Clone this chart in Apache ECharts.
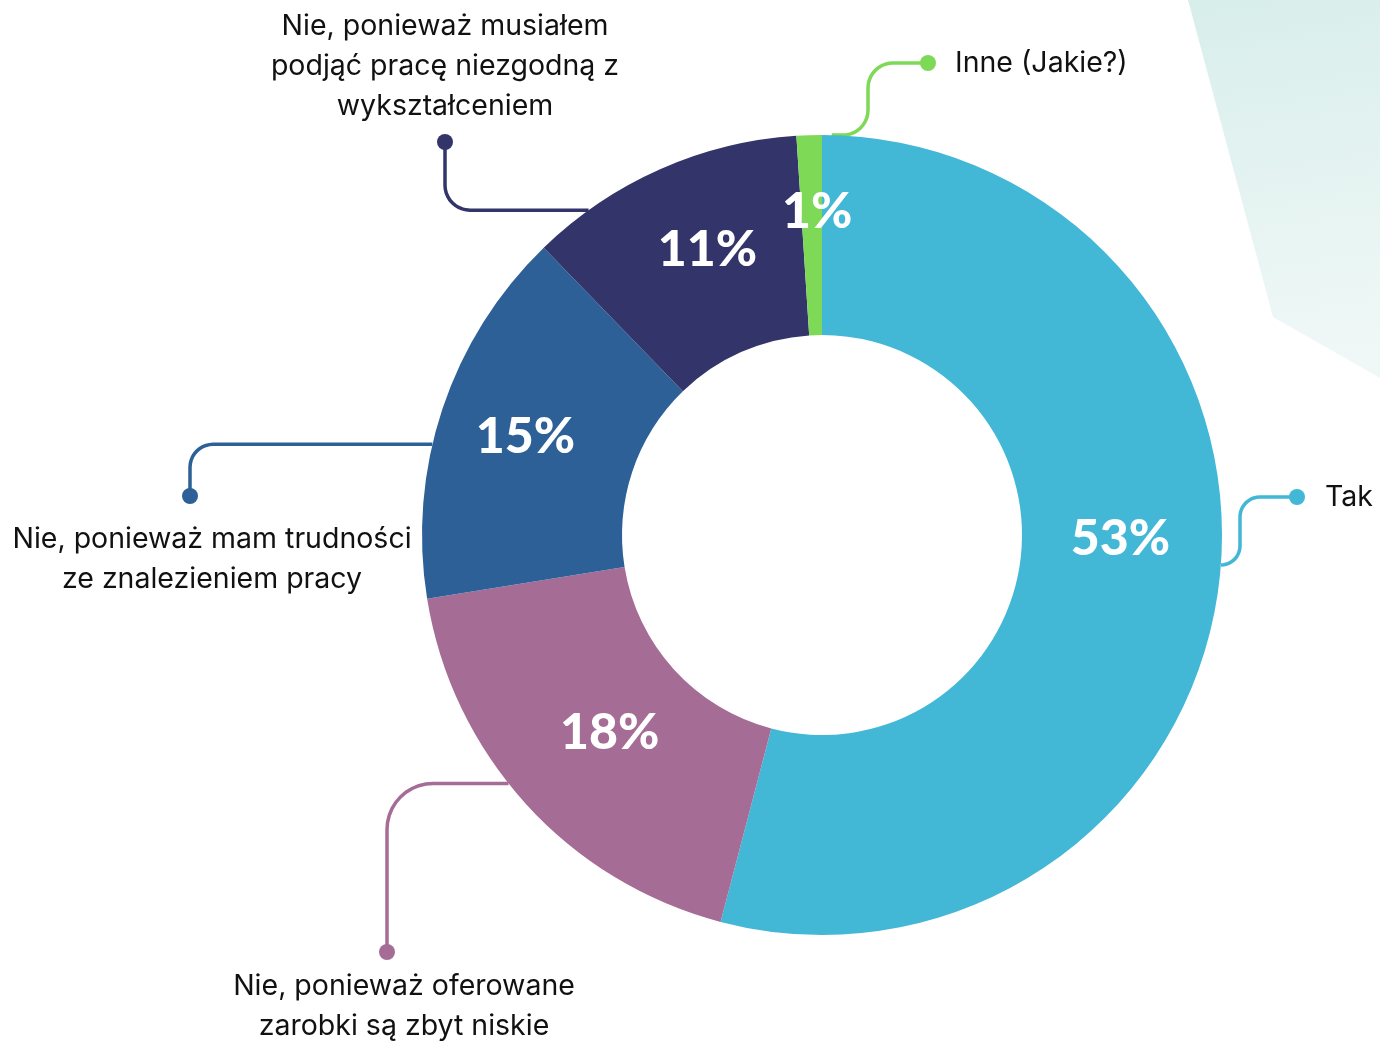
<!DOCTYPE html>
<html>
<head>
<meta charset="utf-8">
<script src="https://cdn.jsdelivr.net/npm/echarts@6/dist/echarts.min.js"></script>
<style>
  html, body { margin: 0; padding: 0; background: #fff; }
  #chart { width: 1380px; height: 1041px; }
</style>
</head>
<body>
<div id="chart"></div>
<script>
// data
var categories = [
    'Tak',
    'Nie, ponieważ oferowane\nzarobki są zbyt niskie',
    'Nie, ponieważ mam trudności\nze znalezieniem pracy',
    'Nie, ponieważ musiałem\npodjąć pracę niezgodną z\nwykształceniem',
    'Inne (Jakie?)'
];
var values = [53, 18, 15, 11, 1];
var colors = ['#42b7d6', '#a56d96', '#2e6098', '#33356a', '#7ed957'];

// pie geometry
var CX = 822, CY = 535, R0 = 200, R1 = 400;

// leader lines: start angle on the rim (deg, clockwise from top), then straight legs
var routes = [
    { a: 94.3, legs: [['h', 1240], ['v', 497], ['h', 1297]], r: 20 },
    { a: 231.6, legs: [['h', 387], ['v', 952]], r: 46 },
    { a: 283.1, legs: [['h', 190], ['v', 496]], r: 23 },
    { a: 324.3, legs: [['h', 445], ['v', 142]], r: 25 },
    { a: 1.4, legs: [['h', 868], ['v', 63], ['h', 928]], r: 25 }
];
// where the text sits relative to the dot
var textPlace = [
    { dx: -8, dy: 0, align: 'left', va: 'middle', gap: 20, lh: 40 },
    { dx: 17, dy: -14, align: 'center', va: 'top', gap: 34, lh: 28 },
    { dx: 22, dy: -23, align: 'center', va: 'top', gap: 44, lh: 46 },
    { dx: 0, dy: 16, align: 'center', va: 'bottom', gap: 0, lh: 32 },
    { dx: -8, dy: 0, align: 'left', va: 'middle', gap: 19, lh: 40 }
];
// nudges for the percentage labels
var pctShift = [[-2, -35], [12, -6], [-9, -3], [8, -8], [5, -20]];

function buildRoute(rt) {
    var rad = rt.a * Math.PI / 180;
    var cur = [CX + R1 * Math.sin(rad), CY - R1 * Math.cos(rad)];
    var corners = [cur];
    rt.legs.forEach(function (l) {
        cur = l[0] === 'h' ? [l[1], cur[1]] : [cur[0], l[1]];
        corners.push(cur);
    });
    var out = [corners[0]];
    var n = corners.length;
    for (var i = 1; i < n - 1; i++) {
        var p0 = corners[i - 1], p = corners[i], p1 = corners[i + 1];
        var l0 = Math.hypot(p0[0] - p[0], p0[1] - p[1]);
        var l1 = Math.hypot(p1[0] - p[0], p1[1] - p[1]);
        var r = Math.min(rt.r, i === 1 ? l0 : l0 / 2, i === n - 2 ? l1 : l1 / 2);
        var d0 = [(p0[0] - p[0]) / l0, (p0[1] - p[1]) / l0];
        var d1 = [(p1[0] - p[0]) / l1, (p1[1] - p[1]) / l1];
        var a = [p[0] + d0[0] * r, p[1] + d0[1] * r];
        var b = [p[0] + d1[0] * r, p[1] + d1[1] * r];
        var c = [p[0] + (d0[0] + d1[0]) * r, p[1] + (d0[1] + d1[1]) * r];
        var angA = Math.atan2(a[1] - c[1], a[0] - c[0]);
        var angB = Math.atan2(b[1] - c[1], b[0] - c[0]);
        var diff = angB - angA;
        if (diff > Math.PI) diff -= 2 * Math.PI;
        if (diff < -Math.PI) diff += 2 * Math.PI;
        for (var k = 0; k <= 10; k++) {
            var ang = angA + diff * k / 10;
            out.push([c[0] + r * Math.cos(ang), c[1] + r * Math.sin(ang)]);
        }
    }
    out.push(corners[n - 1]);
    return out;
}

function labelText(i) {
    var name = categories[i];
    if (i === 0 || i === 4) return '{dot|}{gap|}' + name;
    if (i === 3) return name + '\n{dot|}';
    return '{dot|}{gap|}\n' + name;
}

var outerData = categories.map(function (name, i) {
    return {
        name: name,
        value: values[i],
        itemStyle: { color: colors[i] },
        label: {
            formatter: labelText(i),
            rich: {
                dot: { width: 16, height: 16, borderRadius: 8, backgroundColor: colors[i], lineHeight: textPlace[i].lh },
                gap: { width: textPlace[i].gap, height: 16, lineHeight: textPlace[i].lh }
            }
        }
    };
});

var pctData = categories.map(function (name, i) {
    return { name: name, value: values[i] };
});

var chart = echarts.init(document.getElementById('chart'), null, { renderer: 'canvas' });

var option = {
    backgroundColor: '#ffffff',
    animation: false,
    graphic: [{
        type: 'polygon',
        z: -10,
        shape: { points: [[1188, 0], [1273, 317], [1380, 378], [1380, 0]] },
        style: {
            fill: new echarts.graphic.LinearGradient(0, 0, 0.3, 1, [
                { offset: 0, color: '#d8eeeb' },
                { offset: 1, color: '#f0f8f7' }
            ])
        }
    }],
    series: [
        {
            type: 'pie',
            center: [CX, CY],
            radius: [R0, R1],
            startAngle: 90,
            clockwise: true,
            avoidLabelOverlap: false,
            silent: true,
            data: outerData,
            label: {
                show: true,
                position: 'outside',
                width: 480,
                fontFamily: 'Inter',
                fontSize: 28.5,
                color: '#111111',
                lineHeight: 40
            },
            labelLine: {
                show: true,
                smooth: false,
                lineStyle: { width: 3.5 }
            },
            labelLayout: function (p) {
                var i = p.dataIndex;
                var pts = buildRoute(routes[i]);
                var end = pts[pts.length - 1];
                var t = textPlace[i];
                return {
                    x: end[0] + t.dx,
                    y: end[1] + t.dy,
                    align: t.align,
                    verticalAlign: t.va,
                    labelLinePoints: pts
                };
            }
        },
        {
            type: 'pie',
            center: [CX, CY],
            radius: [R0, R1],
            startAngle: 90,
            clockwise: true,
            silent: true,
            avoidLabelOverlap: false,
            data: pctData,
            itemStyle: { color: 'rgba(0,0,0,0)' },
            label: {
                show: true,
                position: 'inside',
                formatter: function (p) { return p.value + '%'; },
                fontFamily: 'Lato',
                fontWeight: 900,
                fontSize: 50,
                color: '#ffffff'
            },
            labelLine: { show: false },
            labelLayout: function (p) {
                var s = pctShift[p.dataIndex];
                return { dx: s[0], dy: s[1] };
            }
        }
    ]
};

chart.setOption(option);
</script>
</body>
</html>
